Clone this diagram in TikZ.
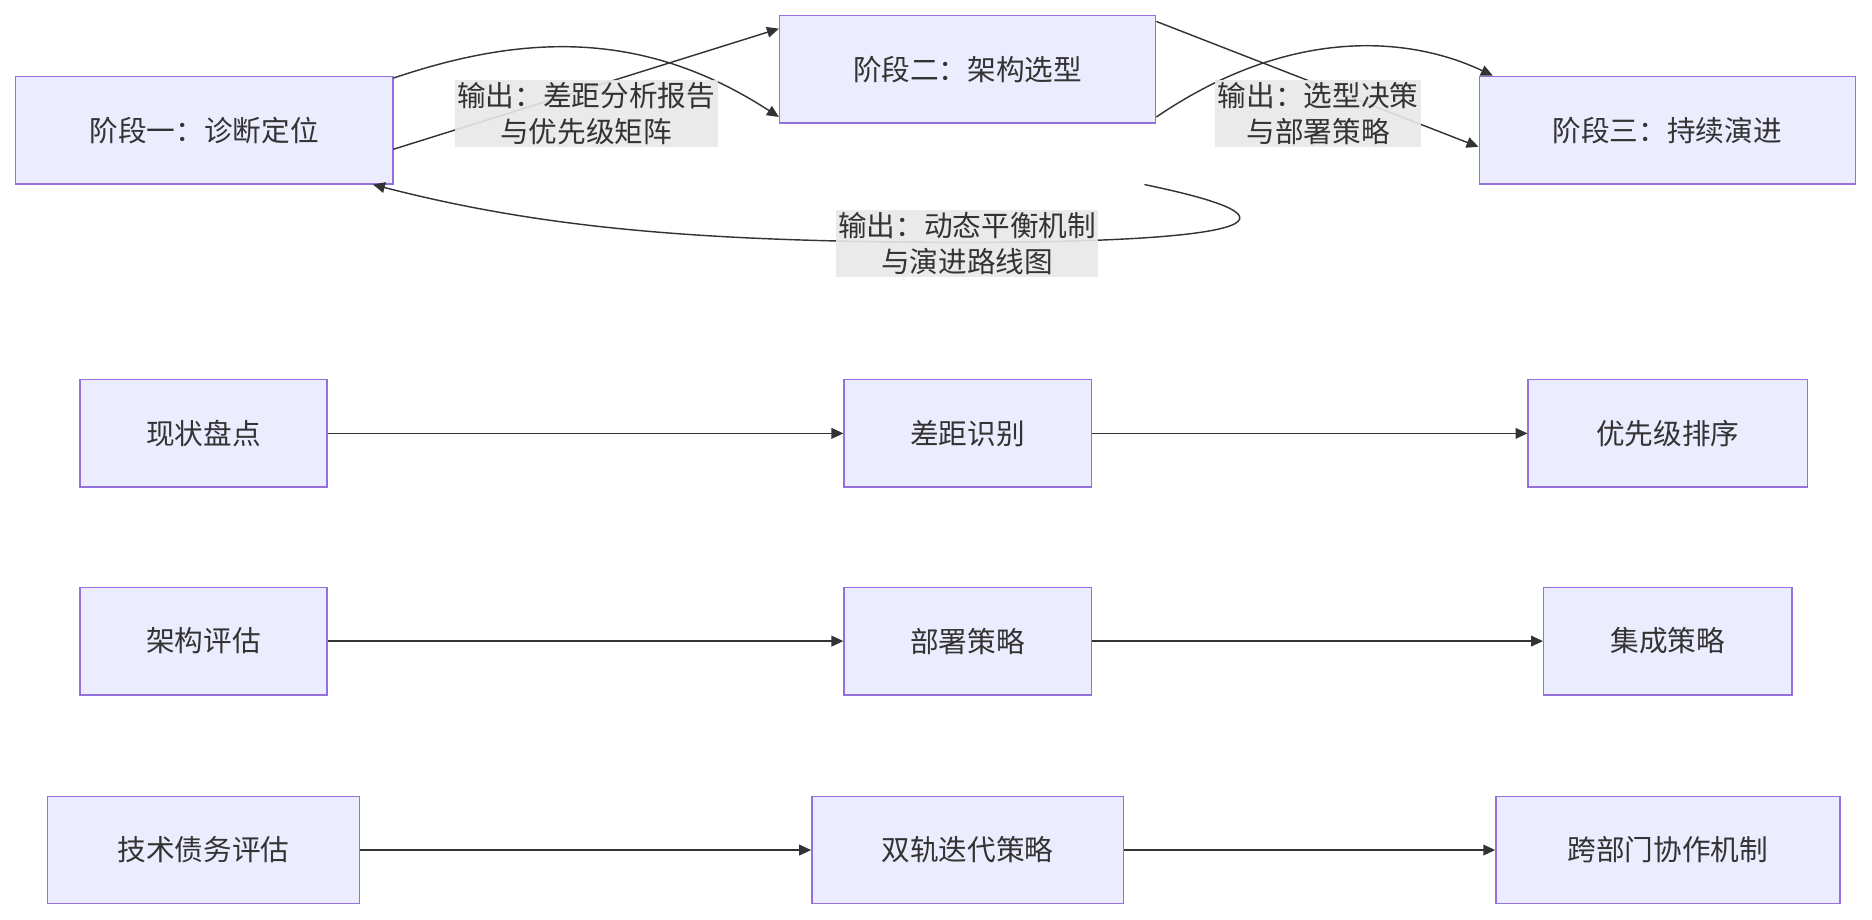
\documentclass[tikz,border=0pt]{standalone}
\usepackage{fontspec}
\setmainfont{Noto Sans CJK SC}
\usetikzlibrary{arrows.meta}
\definecolor{nf}{HTML}{ECECFF}
\definecolor{ns}{HTML}{9370DB}
\definecolor{lb}{HTML}{E8E8E8}
\definecolor{ed}{HTML}{333333}
\begin{document}
\begin{tikzpicture}[x=0.5pt,y=-0.5pt,
  box/.style={draw=ns,fill=nf,line width=0.6pt,minimum height=45pt,inner sep=0pt,font=\fontsize{12}{14}\selectfont,text=ed},
  lab/.style={fill=lb,fill opacity=0.9,text opacity=1,inner sep=1pt,align=center,font=\fontsize{12}{15}\selectfont,text=ed},
  arr/.style={draw=ed,line width=0.6pt,-{Triangle[length=5pt,width=4.5pt]}}]
\useasboundingbox (0,0) rectangle (1568,770);
\node[box,minimum width=158pt] (A) at (171,109) {阶段一：诊断定位};
\node[box,minimum width=157.5pt] (B) at (810.5,58) {阶段二：架构选型};
\node[box,minimum width=157.5pt] (C) at (1396.5,109) {阶段三：持续演进};
\node[box,minimum width=103.5pt] (r1) at (170.5,363) {现状盘点};
\node[box,minimum width=103.5pt] (r2) at (810.5,363) {差距识别};
\node[box,minimum width=117pt] (r3) at (1397,363) {优先级排序};
\node[box,minimum width=103.5pt] (s1) at (170.5,537) {架构评估};
\node[box,minimum width=103.5pt] (s2) at (810.5,537) {部署策略};
\node[box,minimum width=104pt] (s3) at (1397,537) {集成策略};
\node[box,minimum width=130.5pt] (t1) at (170.5,712) {技术债务评估};
\node[box,minimum width=130.5pt] (t2) at (810.5,712) {双轨迭代策略};
\node[box,minimum width=144pt] (t3) at (1397,712) {跨部门协作机制};
\draw[arr] (A.north east) ++(0,2) .. controls (440,28) and (540,25) .. ([yshift=-20]B.west);
\draw[arr] ([yshift=-8]A.east) -- ([yshift=17]B.west);
\draw[arr] ([yshift=-20]B.east) .. controls (1080,22) and (1180,30) .. ([xshift=6]C.north west);
\draw[arr] ([yshift=20]B.east) -- ([yshift=-7]C.west);
\draw[arr] ([xshift=-298]C.south east) .. controls (1130,190) and (1000,203) .. (810,203) .. controls (580,203) and (450,190) .. ([xshift=150]A.south west);
\node[lab] (l1) at (491,95) {输出：差距分析报告\\与优先级矩阵};
\node[lab] (l2) at (1104,95) {输出：选型决策\\与部署策略};
\node[lab] (l3) at (810,204) {输出：动态平衡机制\\与演进路线图};
\draw[arr] (r1) -- (r2); \draw[arr] (r2) -- (r3);
\draw[arr] (s1) -- (s2); \draw[arr] (s2) -- (s3);
\draw[arr] (t1) -- (t2); \draw[arr] (t2) -- (t3);
\end{tikzpicture}
\end{document}
